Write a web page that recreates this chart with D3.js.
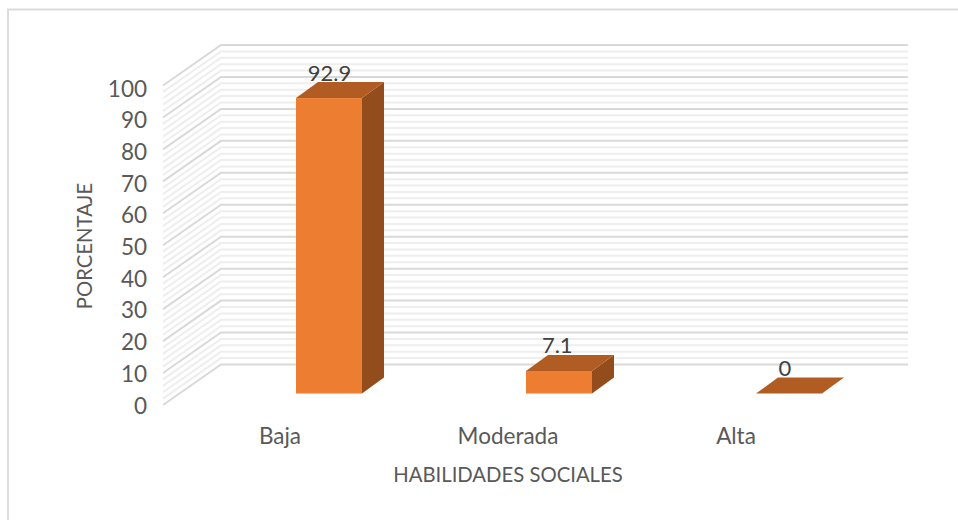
<!DOCTYPE html>
<html><head><meta charset="utf-8">
<script src="https://cdn.jsdelivr.net/npm/d3@7"></script>
<style>html,body{margin:0;padding:0;background:#fff}svg{display:block}text{font-family:Lato,sans-serif}</style>
</head><body><svg id="c" width="958" height="520"></svg>
<script>
const categories = ["Baja", "Moderada", "Alta"];
const values = [92.9, 7.1, 0];
const valueLabels = ["92.9", "7.1", "0"];
const yTicks = [0,10,20,30,40,50,60,70,80,90,100];
const minorTicks = d3.range(0, 100.01, 2);
const xTitle = "HABILIDADES SOCIALES";
const yTitle = "PORCENTAJE";

const svg = d3.select("#c");
const W = 958, H = 520;
const frontBase = 393.5, unit = 3.18;
const y = d3.scaleLinear().domain([0,100]).range([frontBase, frontBase-100*unit]);
const x = d3.scaleBand().domain(categories).range([181,937]).paddingInner(0.713).paddingOuter(0.5);
const catX = d3.scalePoint().domain(categories).range([280,736]);
const valX = d3.scalePoint().domain(categories).range([329.5,785]);
const tickY = d3.scaleLinear().domain([0,100]).range([404,87]);
const dx = 22, dy = 16;                // bar depth offset
const wall = {x0:221, x1:908, y0:364.5, y1:45};
const side = {x0:163, y0:405};
const wy = d3.scaleLinear().domain([0,100]).range([wall.y0, wall.y1]);
const sy = d3.scaleLinear().domain([0,100]).range([side.y0, side.y0-(wall.y0-wall.y1)]);

// chart frame
svg.append("path").attr("d",`M8 ${H}V9.5H${W}`).attr("fill","none").attr("stroke","#dcdcdc").attr("stroke-width",2);

// minor then major gridlines
const gridline = (d, color, w) => {
  svg.append("path")
    .attr("d",`M${side.x0} ${sy(d)}L${wall.x0} ${wy(d)}H${wall.x1}`)
    .attr("fill","none").attr("stroke",color).attr("stroke-width",w);
};
minorTicks.filter(d=>d%10!==0).forEach(d=>gridline(d,"#eeeeee",2));
yTicks.forEach(d=>gridline(d,"#d9d9d9",2));

// bars
const colors = {front:"#ed7d31", top:"#b15c22", side:"#934d1c"};
const g = svg.append("g");
categories.forEach((c,i)=>{
  const l = x(c), r = l + x.bandwidth(), t = y(values[i]), b = y(0);
  if (values[i] > 0) {
    g.append("path").attr("fill",colors.side).attr("d",`M${r} ${t}L${r+dx} ${t-dy}V${b-dy}L${r} ${b}Z`);
    g.append("rect").attr("x",l).attr("y",t).attr("width",x.bandwidth()).attr("height",b-t).attr("fill",colors.front);
  }
  g.append("path").attr("fill",colors.top).attr("d",`M${l} ${t}L${l+dx} ${t-dy}H${r+dx}L${r} ${t}Z`);
  svg.append("text").attr("x",valX(c)).attr("y",t-17.5).attr("text-anchor","middle")
    .attr("font-size",22).attr("fill","#404040").text(valueLabels[i]);
  svg.append("text").attr("x",catX(c)).attr("y",444).attr("text-anchor","middle")
    .attr("font-size",22.5).attr("fill","#595959").text(c);
});

// axis labels
yTicks.forEach(d=>{
  svg.append("text").attr("x",147).attr("y",tickY(d)+9.5).attr("text-anchor","end")
    .attr("font-size",22.5).attr("fill","#595959").text(d);
});
svg.append("text").attr("x",508).attr("y",482).attr("text-anchor","middle")
  .attr("font-size",20.3).attr("fill","#595959").text(xTitle);
svg.append("text").attr("transform","translate(92,246) rotate(-90)").attr("text-anchor","middle")
  .attr("font-size",20.3).attr("fill","#595959").text(yTitle);
</script></body></html>
